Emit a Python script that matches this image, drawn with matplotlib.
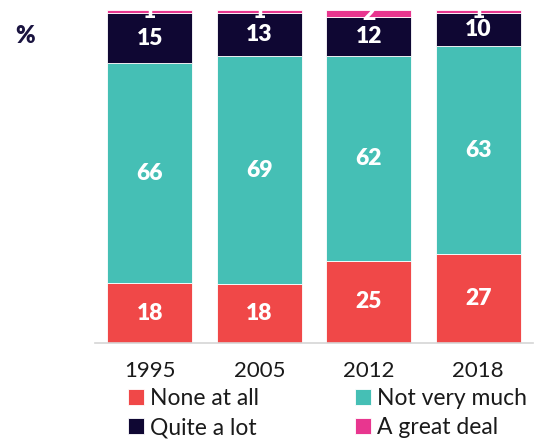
import matplotlib
matplotlib.use("Agg")
import matplotlib.pyplot as plt
import numpy as np

years = ["1995", "2005", "2012", "2018"]
series_names = ["None at all", "Not very much", "Quite a lot", "A great deal"]
none_at_all = [18, 18, 25, 27]
not_very_much = [66, 69, 62, 63]
quite_a_lot = [15, 13, 12, 10]
great_deal = [1, 1, 2, 1]
colors = ["#f04848", "#45bfb5", "#0f0733", "#e8368f"]

plt.rcParams['font.family'] = ['Lato', 'DejaVu Sans']

fig = plt.figure(figsize=(5.34, 4.41), dpi=100)
ax = fig.add_axes([0.178, 0.222, 0.82, 0.755])

all_series = [none_at_all, not_very_much, quite_a_lot, great_deal]
totals = np.sum(np.array(all_series, dtype=float), axis=0)

x = np.arange(len(years))
bottom = np.zeros(len(years))
handles = []
for name, vals, col in zip(series_names, all_series, colors):
    raw = np.array(vals, dtype=float)
    h = raw / totals * 100
    b = ax.bar(x, h, bottom=bottom, width=0.78, color=col, edgecolor="white", linewidth=0.6, label=name)
    handles.append(b)
    for xi, v, hv, bt in zip(x, raw, h, bottom):
        ax.text(xi, bt + hv / 2, f"{int(v)}", ha="center", va="center", color="white",
                fontsize=16.5, fontweight="heavy")
    bottom += h

ax.set_xlim(-0.5, 3.5)
ax.set_ylim(0, 100)
ax.set_xticks(x)
ax.set_xticklabels(years, fontsize=16, color="#1a1a1a")
ax.tick_params(axis="x", length=0, pad=13)
ax.set_yticks([])
for s in ["top", "left", "right"]:
    ax.spines[s].set_visible(False)
ax.spines["bottom"].set_color("#d5d5d5")
ax.spines["bottom"].set_linewidth(1.2)

fig.text(0.028, 0.918, "%", fontsize=17, fontweight="heavy", color="#1a1440", ha="left", va="center")

order = [0, 2, 1, 3]
leg = fig.legend(handles=[handles[i] for i in order], labels=[series_names[i] for i in order],
                 ncol=2, loc="center left",
                 bbox_to_anchor=(0.24, 0.063), frameon=False, fontsize=16.5,
                 handlelength=0.7, handleheight=0.7, handletextpad=0.25,
                 columnspacing=4.2, labelspacing=0.35, borderaxespad=0, borderpad=0)
for t in leg.get_texts():
    t.set_color("#1a1a1a")

fig.savefig("out.png", dpi=100)
